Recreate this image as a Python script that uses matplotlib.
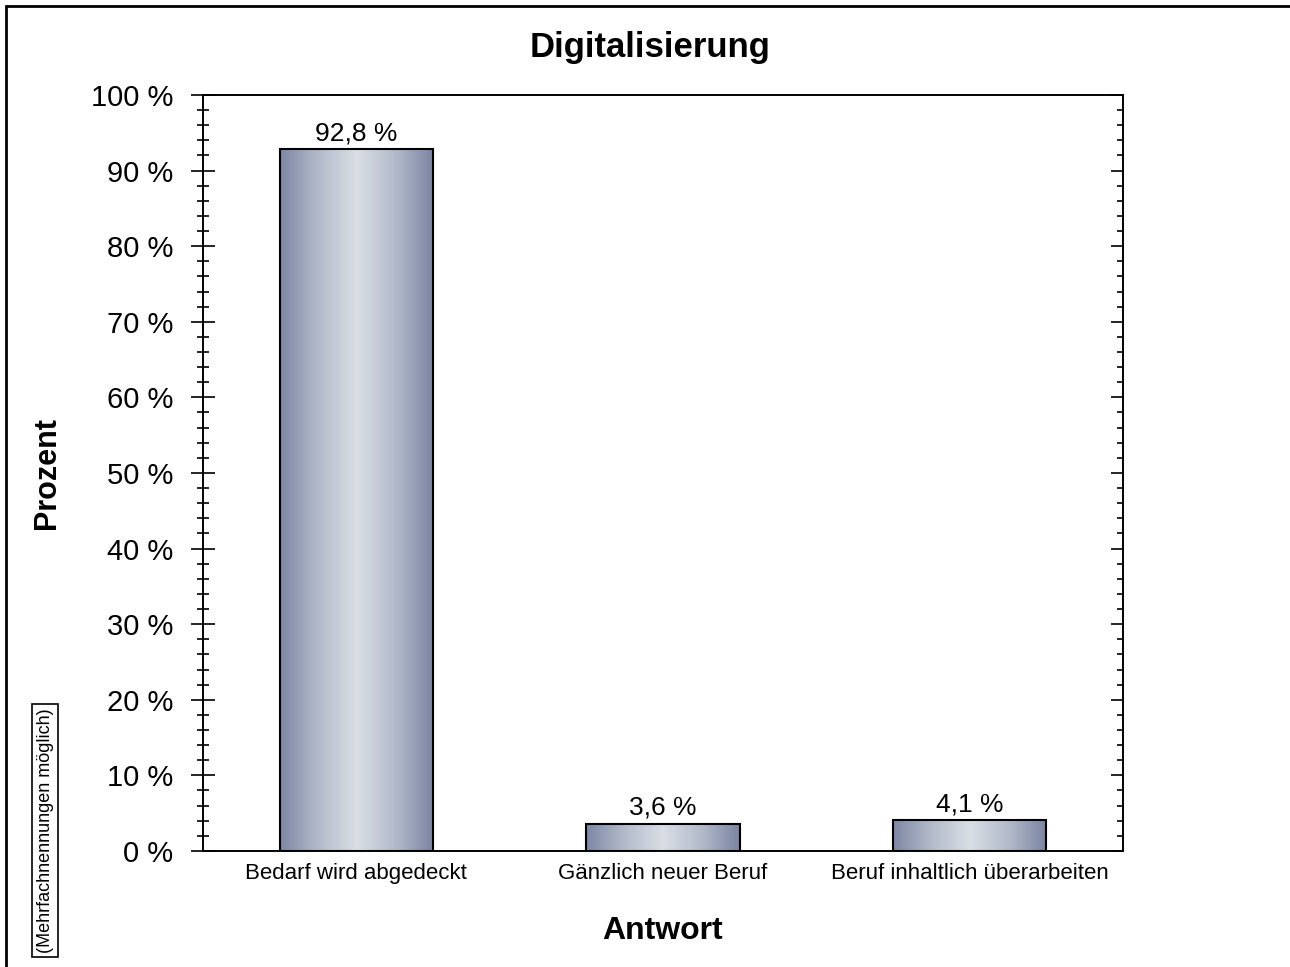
import numpy as np
import matplotlib.pyplot as plt
from matplotlib.patches import Rectangle
from matplotlib.ticker import MultipleLocator, FuncFormatter
from matplotlib.colors import LinearSegmentedColormap

categories = ['Bedarf wird abgedeckt', 'Gänzlich neuer Beruf', 'Beruf inhaltlich überarbeiten']
values = [92.8, 3.6, 4.1]
value_labels = ['92,8 %', '3,6 %', '4,1 %']

plt.rcParams['font.family'] = ['Liberation Sans', 'DejaVu Sans']

fig = plt.figure(figsize=(12.9, 9.67), dpi=100)
ax = fig.add_axes([0.1574, 0.12, 0.8705 - 0.1574, 0.9018 - 0.12])

# horizontal gradient: dark edges, light centre
grad_cmap = LinearSegmentedColormap.from_list(
    'bar', ['#7e87a4', '#b3bbcb', '#d9dfe5', '#b3bbcb', '#7b84a1'])
grad = np.linspace(0, 1, 256).reshape(1, -1)

x = np.arange(len(categories))
width = 0.5
bars = ax.bar(x, values, width=width, color='none', edgecolor='black', linewidth=1.5, zorder=3)
for bar in bars:
    x0, y0 = bar.get_x(), bar.get_y()
    w, h = bar.get_width(), bar.get_height()
    im = ax.imshow(grad, cmap=grad_cmap, aspect='auto', extent=[x0, x0 + w, y0, y0 + h],
                   zorder=2, interpolation='bicubic')
    im.set_clip_path(bar)

for xi, v, lab in zip(x, values, value_labels):
    ax.text(xi, v + 0.5, lab, ha='center', va='bottom', fontsize=19)

ax.set_xlim(-0.5, 2.5)
ax.set_ylim(0, 100)
ax.set_xticks(x)
ax.set_xticklabels(categories, fontsize=16)
ax.tick_params(axis='x', length=0, pad=9)

ax.yaxis.set_major_locator(MultipleLocator(10))
ax.yaxis.set_minor_locator(MultipleLocator(2))
ax.yaxis.set_major_formatter(FuncFormatter(lambda v, p: '%d %%' % v))
ax.tick_params(axis='y', which='major', direction='inout', length=17, width=1.2,
               labelsize=21, pad=13)
ax.tick_params(axis='y', which='minor', direction='inout', length=8, width=1.2)

ax2 = ax.twinx()
ax2.set_ylim(0, 100)
ax2.yaxis.set_major_locator(MultipleLocator(10))
ax2.yaxis.set_minor_locator(MultipleLocator(2))
ax2.tick_params(axis='y', which='major', direction='in', length=9, width=1.2, labelright=False)
ax2.tick_params(axis='y', which='minor', direction='in', length=4.5, width=1.2)

for a in (ax, ax2):
    for s in a.spines.values():
        s.set_linewidth(1.2)

fig.text(650 / 1290, 1 - 48 / 967, 'Digitalisierung', fontsize=25, fontweight='bold',
         ha='center', va='center')
ax.set_xlabel('Antwort', fontsize=23, fontweight='bold', labelpad=23)
ax.set_ylabel('Prozent', fontsize=22, fontweight='bold', labelpad=21)

fig.text(0.035, 0.0145, '(Mehrfachnennungen möglich)', rotation=90, fontsize=13,
         ha='center', va='bottom',
         bbox=dict(boxstyle='square,pad=0.25', facecolor='white', edgecolor='black', linewidth=1.2))

# outer frame (left and top edges visible)
fig.patches.append(Rectangle((6 / 1290, -0.1), 1.2, 1.1 - 6 / 967, transform=fig.transFigure,
                             fill=False, edgecolor='black', linewidth=2))

fig.savefig('out.png', dpi=100)
